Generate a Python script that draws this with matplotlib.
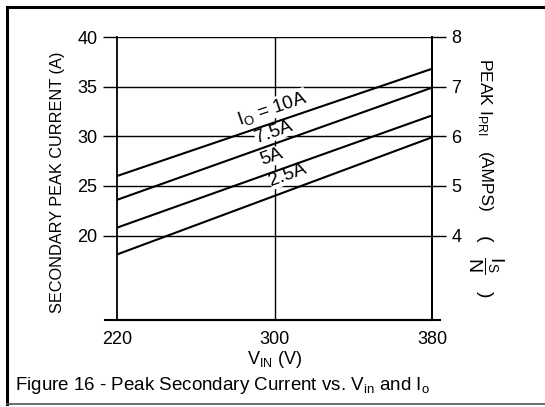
import matplotlib
matplotlib.use('Agg')
import matplotlib.pyplot as plt
import numpy as np
from matplotlib.lines import Line2D

plt.rcParams['font.family'] = ['Liberation Sans', 'DejaVu Sans']
plt.rcParams['mathtext.fontset'] = 'custom'
plt.rcParams['mathtext.rm'] = 'Liberation Sans'
plt.rcParams['mathtext.it'] = 'Liberation Sans:italic'
plt.rcParams['mathtext.bf'] = 'Liberation Sans:bold'

# ---- data ----
vin = [220, 380]
series_names = ['I$_{\\mathrm{O}}$ = 10A', '7.5A', '5A', '2.5A']
i_10 = [26.0, 36.8]
i_75 = [23.6, 34.9]
i_5 = [20.8, 32.1]
i_25 = [18.1, 29.9]
x_ticks = [220, 300, 380]
left_ticks = [20, 25, 30, 35, 40]
right_ticks = [4, 5, 6, 7, 8]

fig = plt.figure(figsize=(5.45, 4.07), dpi=100)
W, H = 545, 407
ax = fig.add_axes([117 / W, 1 - 320 / H, 315 / W, 283 / H])
ax.set_xlim(220, 380)
ax.set_ylim(11.5, 40)

series = [i_10, i_75, i_5, i_25]
for s in series:
    ax.plot(vin, s, color='black', lw=1.5, solid_capstyle='butt', zorder=3)

# grid
for y in left_ticks:
    ax.axhline(y, color='black', lw=1.0, zorder=1)
ax.axvline(300, color='black', lw=1.0, zorder=1)

ax.set_xticks(x_ticks)
ax.set_xticklabels([str(v) for v in x_ticks], fontsize=13)
ax.tick_params(axis='x', length=0, pad=8)
ax.set_yticks(left_ticks)
ax.set_yticklabels([str(v) for v in left_ticks], fontsize=13)
ax.tick_params(axis='y', direction='out', length=10, width=1.0, pad=4)
for sp in ['left', 'right']:
    ax.spines[sp].set_linewidth(1.3)
ax.spines['top'].set_visible(False)
ax.spines['bottom'].set_linewidth(1.5)
ax.plot([-0.037, 1.025], [0, 0], transform=ax.transAxes, color='black', lw=1.5, clip_on=False)

ax2 = ax.twinx()
ax2.set_ylim(11.5 / 5, 8)
ax2.set_yticks(right_ticks)
ax2.set_yticklabels([str(v) for v in right_ticks], fontsize=13)
ax2.tick_params(axis='y', direction='out', length=10, width=1.0, pad=4)
for sp in ['top', 'bottom', 'left']:
    ax2.spines[sp].set_visible(False)
ax2.spines['right'].set_linewidth(1.3)

ax.set_xlabel('V$_{\\mathrm{IN}}$ (V)', fontsize=13, labelpad=1)
ax.set_ylabel('SECONDARY PEAK CURRENT (A)', fontsize=11.7)
ax.yaxis.set_label_coords(-0.166, 0.488)

# right-hand axis title (pieces)
fig.text(484 / W, 1 - 58 / H, 'PEAK I$_{\\mathrm{PRI}}$',
         rotation=-90, fontsize=12.5, ha='center', va='top')
fig.text(484 / W, 1 - 182 / H, '(AMPS)',
         rotation=-90, fontsize=12.5, ha='center', va='center')
fig.text(486 / W, 1 - 266 / H,
         '$(\\quad\\dfrac{\\mathrm{I_S}}{\\mathrm{N}}\\quad)$',
         rotation=-90, fontsize=14, ha='center', va='center')

# in-line labels
label_pos = [(298.7, 32.8), (299.7, 30.45), (298.7, 27.9), (306.9, 26.1)]
for name, s, (lx, ly) in zip(series_names, series, label_pos):
    p1 = ax.transData.transform((vin[0], s[0]))
    p2 = ax.transData.transform((vin[1], s[1]))
    ang = np.degrees(np.arctan2(p2[1] - p1[1], p2[0] - p1[0]))
    ax.text(lx, ly, name, rotation=ang, rotation_mode='anchor', fontsize=13.5,
            ha='center', va='center', zorder=2,
            bbox=dict(facecolor='white', edgecolor='none', pad=0.3))

fig.text(15 / W, 1 - 385 / H,
         'Figure 16 - Peak Secondary Current vs. V$_{\\mathrm{in}}$ and I$_{\\mathrm{o}}$',
         fontsize=13.5, ha='left', va='center')

# outer frame
fig.add_artist(Line2D([7 / W, 1.0], [1 - 7 / H, 1 - 7 / H], color='black', lw=2.2))
fig.add_artist(Line2D([7 / W, 7 / W], [1 - 7 / H, 1 - 404 / H], color='black', lw=2.2))
fig.add_artist(Line2D([7 / W, 1.0], [1 - 404 / H, 1 - 404 / H], color='#555555', lw=1.2))

fig.savefig('out.png', dpi=100)
